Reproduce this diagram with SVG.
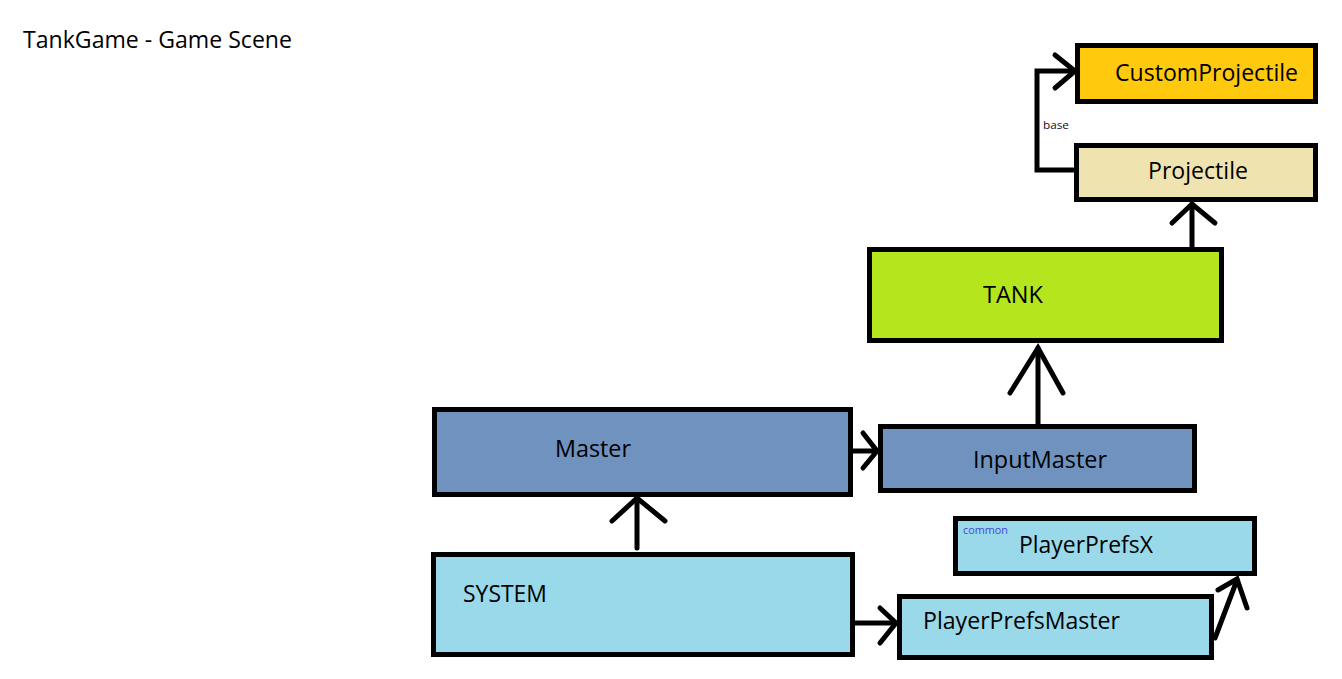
<svg xmlns="http://www.w3.org/2000/svg" width="1342" height="679" viewBox="0 0 1342 679">
<style>
.box{stroke:#000;stroke-width:5}
.lbl{font-family:"Open Sans","Noto Sans","DejaVu Sans",sans-serif;font-size:23px;fill:#000}
.small{font-family:"Open Sans","Noto Sans","DejaVu Sans",sans-serif;font-size:10px}
.ln{fill:none;stroke:#000;stroke-width:5;stroke-linecap:round;stroke-linejoin:miter}
</style>
<rect width="1342" height="679" fill="#fff"/>
<text class="lbl" x="23" y="48" textLength="269" lengthAdjust="spacingAndGlyphs">TankGame - Game Scene</text>
<g id="connectors">
<path class="ln" d="M1076,170 H1037 V71 H1073"/>
<path class="ln" d="M1055,55 L1075,71 L1055,88"/>
<path class="ln" d="M1192,247 V204"/>
<path class="ln" d="M1172,223 L1192,204 L1215,223"/>
<path class="ln" d="M1038,424 V348"/>
<path class="ln" d="M1010,393 L1038,348 L1063,393"/>
<path class="ln" d="M637,548 V498"/>
<path class="ln" d="M612,521 L637,498 L665,521"/>
<path class="ln" d="M853,451 H877"/>
<path class="ln" d="M863,433 L877,451 L863,468"/>
<path class="ln" d="M855,623 H896"/>
<path class="ln" d="M880,608 L896,623 L880,643"/>
<path class="ln" d="M1215,638 L1237,580"/>
<path class="ln" d="M1218,590 L1237,579 L1247,608"/>
<text class="small" x="1043" y="129" fill="#1a0a20" textLength="26" lengthAdjust="spacingAndGlyphs">base</text>
</g>
<g id="customprojectile">
<rect class="box" x="1077.5" y="45.5" width="238" height="56" fill="#FFC90E"/>
<text class="lbl" x="1115" y="81" textLength="183" lengthAdjust="spacingAndGlyphs">CustomProjectile</text>
</g>
<g id="projectile">
<rect class="box" x="1076.5" y="145.5" width="239" height="54" fill="#EFE4B0"/>
<text class="lbl" x="1148" y="179" textLength="100" lengthAdjust="spacingAndGlyphs">Projectile</text>
</g>
<g id="tank">
<rect class="box" x="869.5" y="249.5" width="352" height="91" fill="#B5E61D"/>
<text class="lbl" x="983" y="303" textLength="60" lengthAdjust="spacingAndGlyphs">TANK</text>
</g>
<g id="master">
<rect class="box" x="434.5" y="409.5" width="416" height="85" fill="#7092BE"/>
<text class="lbl" x="555" y="457" textLength="76" lengthAdjust="spacingAndGlyphs">Master</text>
</g>
<g id="inputmaster">
<rect class="box" x="880.5" y="426.5" width="314" height="64" fill="#7092BE"/>
<text class="lbl" x="973" y="468" textLength="134" lengthAdjust="spacingAndGlyphs">InputMaster</text>
</g>
<g id="system">
<rect class="box" x="433.5" y="554.5" width="419" height="100" fill="#99D9EA"/>
<text class="lbl" x="463" y="602" textLength="84" lengthAdjust="spacingAndGlyphs">SYSTEM</text>
</g>
<g id="playerprefsx">
<rect class="box" x="955.5" y="518.5" width="299" height="55" fill="#99D9EA"/>
<text class="small" x="963" y="534" fill="#3F48CC" textLength="45" lengthAdjust="spacingAndGlyphs">common</text>
<text class="lbl" x="1019" y="553" textLength="134" lengthAdjust="spacingAndGlyphs">PlayerPrefsX</text>
</g>
<g id="playerprefsmaster">
<rect class="box" x="899.5" y="596.5" width="312" height="61" fill="#99D9EA"/>
<text class="lbl" x="923" y="629" textLength="197" lengthAdjust="spacingAndGlyphs">PlayerPrefsMaster</text>
</g>
</svg>
